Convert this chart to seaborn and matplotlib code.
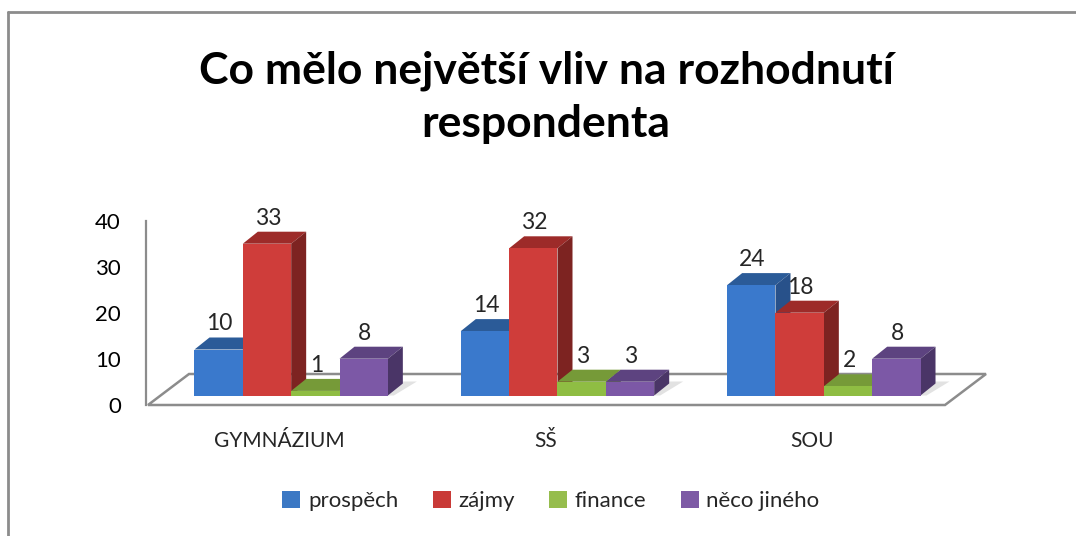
import numpy as np
import pandas as pd
import matplotlib
matplotlib.use("Agg")
import matplotlib.pyplot as plt
from matplotlib.patches import Polygon, Patch
from matplotlib.lines import Line2D
from matplotlib.transforms import Affine2D, IdentityTransform
import seaborn as sns

# data
skupiny = ["GYMNÁZIUM", "SŠ", "SOU"]
duvody = ["prospěch", "zájmy", "finance", "něco jiného"]
prospech = [10, 14, 24]
zajmy = [33, 32, 18]
finance = [1, 3, 2]
neco_jineho = [8, 3, 8]

# barvy: predni stena, horni stena, bocni stena
barvy_predni = ["#3a79cc", "#cf3d3a", "#8fbd43", "#7c58a6"]
barvy_horni = ["#2b5b98", "#9d2b29", "#769a38", "#5d4380"]
barvy_bok = ["#28518a", "#7d2321", "#61802d", "#4a3567"]
barvy_legenda = ["#3b78c4", "#c93a37", "#96bd4d", "#7d5aa5"]

W, H = 1076, 536
SEDA = "#8c8c8c"

sns.set_style("white")
plt.rcParams["font.family"] = ["Lato", "DejaVu Sans"]

df = pd.DataFrame({
    "skupina": skupiny * 4,
    "duvod": np.repeat(duvody, len(skupiny)),
    "pocet": prospech + zajmy + finance + neco_jineho,
})

fig = plt.figure(figsize=(W / 100, H / 100), dpi=100)
ax = fig.add_axes([146 / W, 1 - 405 / H, (945 - 146) / W, (405 - 221) / H])

sns.barplot(data=df, x="skupina", y="pocet", hue="duvod", order=skupiny,
            hue_order=duvody, palette=barvy_predni, width=0.726, gap=0,
            errorbar=None, saturation=1, legend=False, ax=ax)

ax.set_xlim(-0.5, 2.5)
ax.set_ylim(0, 40)
ax.set_yticks([0, 10, 20, 30, 40])
ax.set_xlabel("")
ax.set_ylabel("")
ax.set_facecolor("none")
for s in ["top", "right", "bottom"]:
    ax.spines[s].set_visible(False)
ax.spines["left"].set_color(SEDA)
ax.spines["left"].set_linewidth(1.6)
ax.tick_params(axis="y", length=5, width=1.2, color=SEDA, pad=13,
               labelsize=16, labelcolor="black")
ax.set_xticks([-0.5, 0.5, 1.5, 2.5], minor=True)
ax.tick_params(axis="x", which="minor", length=8, width=1.2, color=SEDA)
ax.tick_params(axis="x", which="major", length=0, pad=19, labelsize=15)

# podlaha (3D)
hl_podlaha = np.array([41, 31])
fl = ax.transAxes.transform((0, 0)) + np.array([2, 0])
fr = ax.transAxes.transform((1, 0))
podlaha = Polygon([fl, fr, fr + hl_podlaha, fl + hl_podlaha], closed=True,
                  transform=IdentityTransform(), facecolor="white",
                  edgecolor=SEDA, linewidth=1.8, zorder=1, clip_on=False)
ax.add_patch(podlaha)

# sloupce jako kvadry
posun = np.array([12, 9.5])
hl = np.array([15, 12])
for i, cont in enumerate(ax.containers):
    for p in cont:
        x, w, h = p.get_x(), p.get_width(), p.get_height()
        x0, y0 = ax.transData.transform((x, 0)) + posun
        x1, y1 = ax.transData.transform((x + w, h)) + posun
        p.set_transform(ax.transData + Affine2D().translate(*posun))
        p.set_zorder(3 + 2 * i)
        p.set_edgecolor("none")
        p.set_clip_on(False)
        # stin na podlaze
        stin = Polygon([(x0, y0), (x1 + 6, y0), (x1 + hl[0] + 14, y0 + hl[1] + 2),
                        (x0 + hl[0], y0 + hl[1] + 2)],
                       transform=IdentityTransform(), facecolor="#e2e2e2",
                       edgecolor="none", zorder=1.5, clip_on=False)
        ax.add_patch(stin)
        horni = Polygon([(x0, y1), (x1, y1), (x1 + hl[0], y1 + hl[1]),
                         (x0 + hl[0], y1 + hl[1])],
                        transform=IdentityTransform(), facecolor=barvy_horni[i],
                        edgecolor="none", zorder=2 + 2 * i, clip_on=False)
        bok = Polygon([(x1, y0), (x1 + hl[0], y0 + hl[1]),
                       (x1 + hl[0], y1 + hl[1]), (x1, y1)],
                      transform=IdentityTransform(), facecolor=barvy_bok[i],
                      edgecolor="none", zorder=2 + 2 * i, clip_on=False)
        ax.add_patch(horni)
        ax.add_patch(bok)
        ax.text((x0 + x1) / 2 + 1, y1 + hl[1] + 3, f"{int(h)}",
                transform=IdentityTransform(), ha="center", va="bottom",
                fontsize=16.5, zorder=20)

# titulek
fig.text(546 / W, 1 - 97 / H, "Co mělo největší vliv na rozhodnutí\nrespondenta",
         ha="center", va="center", fontsize=32, fontweight="bold",
         linespacing=1.4, color="black")

# legenda
handles = [Patch(facecolor=c, edgecolor="none") for c in barvy_legenda]
fig.legend(handles, duvody, loc="center", bbox_to_anchor=(551 / W, 1 - 501 / H),
           ncol=4, frameon=False, fontsize=16, handlelength=0.8,
           handleheight=0.8, handletextpad=0.35, columnspacing=1.55)

# ramecek grafu
fig.add_artist(Line2D([8 / W, 8 / W], [0, 1 - 12 / H], transform=fig.transFigure,
                      color=SEDA, linewidth=2))
fig.add_artist(Line2D([8 / W, 1], [1 - 12 / H, 1 - 12 / H], transform=fig.transFigure,
                      color=SEDA, linewidth=2))

fig.savefig("out.png", dpi=100)
